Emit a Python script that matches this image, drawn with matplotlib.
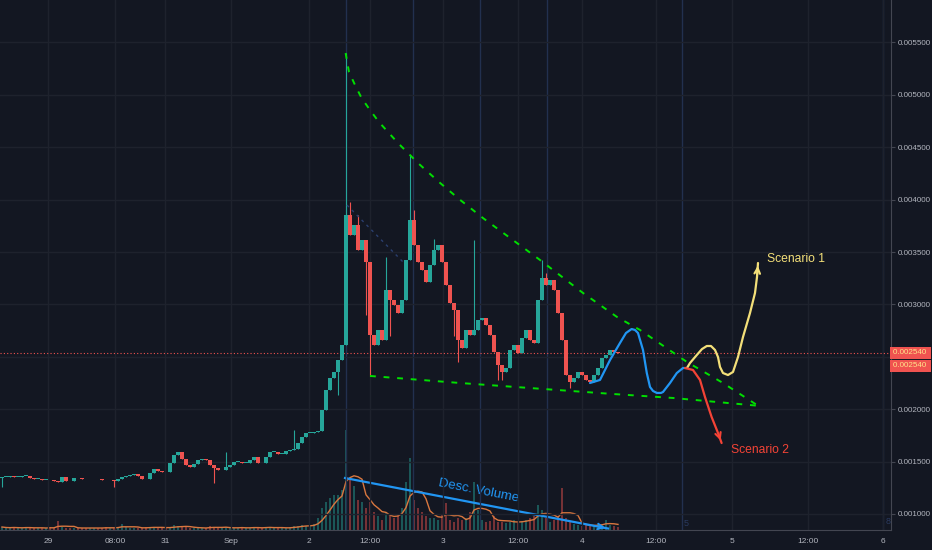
import numpy as np
import pandas as pd
import matplotlib
matplotlib.use("Agg")
import matplotlib.pyplot as plt
from matplotlib import transforms

plt.rcParams['font.family'] = ['Liberation Sans', 'DejaVu Sans']

# closing prices, one per bar
closes = [
    0.001353, 0.001353, 0.001363, 0.001353, 0.001353, 0.001363, 0.001367, 0.001344, 0.001334, 0.001334,
    0.001324, 0.001324, 0.001320, 0.001315, 0.001305, 0.001353, 0.001315, 0.001310, 0.001344, 0.001339,
    0.001334, 0.001329, 0.001329, 0.001334, 0.001329, 0.001324, 0.001320, 0.001324, 0.001310, 0.001334,
    0.001353, 0.001363, 0.001372, 0.001377, 0.001363, 0.001334, 0.001329, 0.001391, 0.001425, 0.001410,
    0.001401, 0.001396, 0.001487, 0.001563, 0.001596, 0.001525, 0.001468, 0.001448, 0.001477, 0.001515,
    0.001520, 0.001515, 0.001468, 0.001439, 0.001415, 0.001420, 0.001448, 0.001468, 0.001496, 0.001496,
    0.001487, 0.001487, 0.001515, 0.001544, 0.001487, 0.001482, 0.001544, 0.001592, 0.001592, 0.001573,
    0.001573, 0.001601, 0.001611, 0.001620, 0.001677, 0.001735, 0.001773, 0.001773, 0.001778, 0.001792,
    0.001992, 0.002183, 0.002298, 0.002355, 0.002469, 0.002613, 0.003853, 0.003662, 0.003758, 0.003519,
    0.003615, 0.003405, 0.002708, 0.002613, 0.002756, 0.002660, 0.003137, 0.003042, 0.002994, 0.002918,
    0.003042, 0.003424, 0.003805, 0.003567, 0.003405, 0.003328, 0.003214, 0.003376, 0.003519, 0.003567,
    0.003405, 0.003185, 0.003013, 0.002947, 0.002660, 0.002584, 0.002756, 0.002708, 0.002756, 0.002851,
    0.002870, 0.002803, 0.002708, 0.002546, 0.002422, 0.002355, 0.002393, 0.002565, 0.002613, 0.002536,
    0.002679, 0.002756, 0.002660, 0.002632, 0.003042, 0.003252, 0.003185, 0.003233, 0.003137, 0.002918,
    0.002660, 0.002326, 0.002260, 0.002298, 0.002355, 0.002326, 0.002279, 0.002260, 0.002326, 0.002393,
    0.002489, 0.002517, 0.002565, 0.002546, 0.002540,
]
first_open = 0.001344

# long wicks
spike_bars = [56, 73, 86, 87, 89, 96, 102, 103, 108, 118, 135, 136]
spike_highs = [0.001592, 0.001802, 0.005399, 0.003980, 0.003850, 0.003452, 0.004426, 0.003900, 0.003620,
               0.003615, 0.003424, 0.003300]
dip_bars = [0, 28, 53, 84, 91, 92, 97, 113, 114, 124, 125, 142]
dip_lows = [0.001258, 0.001258, 0.001299, 0.002136, 0.002900, 0.002317, 0.002700, 0.002700, 0.002450,
            0.002280, 0.002280, 0.002200]

volumes = [
    3, 2, 2, 3, 2, 2, 3, 2, 2, 2, 2, 2, 3, 2, 9, 3, 2, 2, 2, 2,
    2, 2, 2, 2, 2, 2, 3, 2, 2, 3, 6, 3, 2, 2, 2, 2, 3, 3, 3, 2,
    2, 2, 3, 5, 4, 3, 3, 2, 2, 2, 2, 2, 4, 3, 2, 2, 3, 2, 2, 2,
    3, 2, 2, 3, 2, 2, 3, 3, 2, 2, 2, 2, 3, 4, 4, 5, 4, 4, 6, 12,
    22, 28, 32, 35, 35, 40, 100, 52, 44, 30, 28, 22, 28, 18, 14, 10, 18, 14, 12, 16,
    22, 48, 72, 30, 22, 18, 14, 12, 12, 10, 16, 27, 10, 8, 12, 10, 12, 18, 48, 20,
    10, 8, 9, 14, 8, 8, 7, 8, 10, 7, 9, 10, 12, 14, 25, 20, 12, 8, 10, 14,
    42, 12, 8, 6, 5, 4, 5, 4, 5, 6, 6, 10, 5, 4, 3,
]
vol_top = 530

tick_pos = [11.5, 28.25, 40.75, 57.25, 76.75, 92, 110.25, 129, 145, 163.5, 182.5, 201.5, 220.25]
tick_labels = ['29', '08:00', '31', 'Sep', '2', '12:00', '3', '12:00', '4', '12:00', '5', '12:00', '6']
price_ticks = [0.001, 0.0015, 0.002, 0.0025, 0.003, 0.0035, 0.004, 0.0045, 0.005, 0.0055]
last_price = 0.00254
session_bars = [86, 102.75, 119.5, 136.25, 170, 220.25]

# drawings
upper_x = [85.9, 86.75, 88.25, 89.9, 92, 94.25, 99, 104, 109.25, 114.25, 120.25, 134.5, 145.25, 153.75,
           159.5, 171.25, 180.25, 189.5]
upper_y = [0.005399, 0.005218, 0.005094, 0.004969, 0.004855, 0.004740, 0.004540, 0.004349, 0.004168,
           0.004006, 0.003824, 0.003424, 0.003109, 0.002880, 0.002756, 0.002450, 0.002250, 0.002021]
lower_x = [92, 114.5, 152.75, 167.75, 189.5]
lower_y = [0.002317, 0.002250, 0.002145, 0.002107, 0.002031]
faint_x = [86.25, 100.25]
faint_y = [0.003948, 0.003405]
blue_x = [147, 149.5, 152, 154.5, 156, 157.4, 158.25, 159, 160.25, 161.2, 162, 162.75, 163.7, 164.75, 165.25,
          167, 168.7, 170.25, 171.25]
blue_y = [0.002250, 0.002279, 0.002469, 0.002632, 0.002727, 0.002765, 0.002756, 0.002727, 0.002565, 0.002345,
          0.002212, 0.002174, 0.002155, 0.002155, 0.002164, 0.002250, 0.002345, 0.002393, 0.002393]
s1_x = [171.25, 172, 173.7, 175, 176.2, 177.25, 178.25, 179, 179.5, 180.25, 181.5, 182.75, 184, 185.25,
        187, 188.25, 188.75, 189]
s1_y = [0.002393, 0.002441, 0.002517, 0.002574, 0.002603, 0.002603, 0.002565, 0.002498, 0.002403, 0.002345,
        0.002326, 0.002355, 0.002498, 0.002689, 0.002918, 0.003109, 0.003261, 0.003395]
s2_x = [170.75, 172.75, 174.5, 175.75, 177.4, 179, 179.9]
s2_y = [0.002393, 0.002374, 0.002279, 0.002116, 0.001926, 0.001773, 0.001677]
desc_x = [85.75, 151.5]
desc_vol = [52, 1.5]

BG = '#131722'
GRID = '#1e222d'
UP = '#26a69a'
DN = '#ef5350'
TXT = '#b2b5be'

fig = plt.figure(figsize=(9.32, 5.5), dpi=100, facecolor=BG)
ax = fig.add_axes([0, 20 / 550, 891 / 932, 530 / 550])
vax = ax.twinx()
ax.set_zorder(2)
vax.set_zorder(1)
ax.patch.set_visible(False)
vax.set_facecolor(BG)

n = len(closes)
x = np.arange(n)
c = np.array(closes)
o = np.r_[first_open, c[:-1]]
hi = np.maximum(o, c)
lo = np.minimum(o, c)
hi[spike_bars] = np.maximum(hi[spike_bars], spike_highs)
lo[dip_bars] = np.minimum(lo[dip_bars], dip_lows)
up = c >= o
cols = np.where(up, UP, DN)

# volume overlay
vol = np.array(volumes)
vax.bar(x, vol, width=0.5, color=cols, alpha=0.45)
vma = pd.Series(vol).rolling(5, min_periods=1).mean()
vax.plot(x, vma, color='#d9773f', lw=1)
vax.set_ylim(0, vol_top)
vax.axis('off')
vax.plot(desc_x, desc_vol, color='#2196f3', lw=1.6)
vax.annotate('', xy=(desc_x[1], desc_vol[1]), xytext=(desc_x[1] - 3, desc_vol[1] + 2.4),
             arrowprops=dict(arrowstyle='->', color='#2196f3', lw=1.4))
vax.text(119.25, 39, 'Desc. Volume', color='#2196f3', fontsize=9.5, rotation=-11,
         ha='center', va='center')
vax.text(171, 7, '5', color='#2a3a60', fontsize=6.5, ha='center', va='center')
vax.text(221.5, 9, '8', color='#2a3a60', fontsize=6.5, ha='center', va='center')

# session lines
for b in session_bars:
    ax.axvline(b, color='#22304f', lw=1, zorder=0.5)

# candles
ax.vlines(x, lo, hi, colors=cols, lw=0.8, zorder=2)
body = np.maximum(np.abs(c - o), 0.000008)
ax.bar(x, body, bottom=np.minimum(o, c), width=0.88, color=cols, zorder=3)

ax.axhline(last_price, color=DN, ls=(0, (1, 2)), lw=0.8, zorder=1)

# trend lines and scenarios
ax.plot(faint_x, faint_y, color='#2a3f6f', lw=1, ls=(0, (2, 3)), zorder=4)
ax.plot(upper_x, upper_y, color='#00e000', lw=1.4, ls=(0, (3, 4)), zorder=5)
ax.plot(lower_x, lower_y, color='#00e000', lw=1.4, ls=(0, (3, 4)), zorder=5)
ax.plot(blue_x, blue_y, color='#2196f3', lw=1.6, zorder=6, solid_capstyle='round')
ax.plot(s1_x, s1_y, color='#f3df79', lw=1.6, zorder=6, solid_capstyle='round')
ax.plot(s2_x, s2_y, color='#f44336', lw=1.6, zorder=6, solid_capstyle='round')
ax.annotate('', xy=(s1_x[-1], s1_y[-1]), xytext=(s1_x[-2], s1_y[-2]),
            arrowprops=dict(arrowstyle='->', color='#f3df79', lw=1.5), zorder=6)
ax.annotate('', xy=(s2_x[-1], s2_y[-1]), xytext=(s2_x[-2], s2_y[-2]),
            arrowprops=dict(arrowstyle='->', color='#f44336', lw=1.5), zorder=6)
ax.text(191.25, 0.003433, 'Scenario 1', color='#f3df79', fontsize=8.7, ha='left', va='center', zorder=7)
ax.text(182.25, 0.001611, 'Scenario 2', color='#f44336', fontsize=8.7, ha='left', va='center', zorder=7)

ax.set_xlim(-0.5, 222.25)
ax.set_ylim(0.000847, 0.005905)

ax.set_xticks(tick_pos, tick_labels)
ax.set_yticks(price_ticks, ['%.6f' % p for p in price_ticks])
ax.yaxis.tick_right()
ax.grid(True, color=GRID, lw=1, zorder=0)
ax.set_axisbelow(True)
ax.tick_params(axis='x', length=0, labelsize=6, colors=TXT, pad=5.5)
ax.tick_params(axis='y', length=3, width=0.8, color='#434651', labelsize=5.8, labelcolor=TXT, pad=1.5)
for side in ['top', 'left']:
    ax.spines[side].set_visible(False)
for side in ['right', 'bottom']:
    ax.spines[side].set_color('#434651')

# last price labels on the price scale
trans = transforms.blended_transform_factory(ax.transAxes, ax.transData)
box = dict(boxstyle='square,pad=0.3', fc='#f05350', ec='none')
for dy in [0, -9.4]:
    ax.annotate('0.002540 ', xy=(1.0, last_price), xycoords=trans, xytext=(1.2, dy),
                textcoords='offset points', ha='left', va='center', fontsize=5.8, color='#ffe48a',
                bbox=box, annotation_clip=False, zorder=10)

fig.savefig('out.png', dpi=100, facecolor=BG)
